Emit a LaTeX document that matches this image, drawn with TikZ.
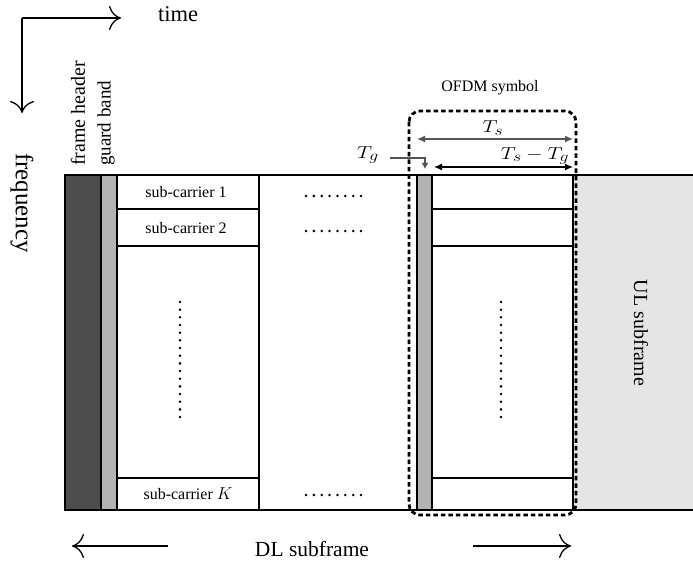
\documentclass[tikz,border=0pt]{standalone}
\usepackage{fontspec}
\setmainfont{Liberation Serif}
\usetikzlibrary{arrows.meta}
\definecolor{hdrgray}{HTML}{4D4D4D}
\definecolor{bandgray}{HTML}{B3B3B3}
\definecolor{ulgray}{HTML}{E5E5E5}
\definecolor{dimgray}{HTML}{555555}
\begin{document}
\begin{tikzpicture}[x=1pt,y=-1pt,
  cell/.style={draw=black,line width=1.2pt},
  biglbl/.style={inner sep=0pt,font=\fontsize{20}{24}\selectfont},
  smalllbl/.style={inner sep=0pt,font=\fontsize{16}{19}\selectfont},
  mathlbl/.style={inner sep=0pt,font=\fontsize{19}{23}\selectfont,xscale=1.22},
  axisarrow/.style={line width=1.3pt,-{Computer Modern Rightarrow[length=12pt,width=24pt]}},
  dimarrow/.style={line width=1.2pt,{Latex[length=8pt,width=7pt]}-{Latex[length=8pt,width=7pt]}},
  dotmark/.style={fill=black}
]
\fill[white] (0,0) rectangle (693,564);
\useasboundingbox (0,0) rectangle (693,564);

% time / frequency axes
\coordinate (origin) at (22,18);
\coordinate (tend) at (121,18);
\coordinate (fend) at (22,113);
\draw[axisarrow] (origin) -- (tend);
\draw[axisarrow] (origin) -- (fend);
\node[biglbl,font=\fontsize{22.5}{26}\selectfont] (time) at (178,14) {time};
\node[biglbl,font=\fontsize{25}{29}\selectfont,rotate=-90] (freq) at (22,203) {frequency};

% labels over header and guard band
\node[biglbl,rotate=90,anchor=west] (hdrlbl) at (78,166) {frame header};
\node[biglbl,font=\fontsize{19}{23}\selectfont,rotate=90,anchor=west] (bandlbl) at (106,166) {guard band};

% frame header and guard band
\filldraw[cell,fill=hdrgray] (65,175) rectangle (101,510);
\filldraw[cell,fill=bandgray] (101,175) rectangle (117,510);

% first symbol with its sub-carriers
\draw[cell] (117,175) rectangle (259,510);
\foreach \yy in {209,246,478} \draw[cell] (117,\yy) -- (259,\yy);
\node[smalllbl] (sc1) at (186,192) {sub-carrier 1};
\node[smalllbl] (sc2) at (186,228) {sub-carrier 2};
\node[smalllbl] (scK) at (188,494) {sub-carrier $K$};
\foreach \k in {0,...,15} \fill[dotmark] (180,{302+\k*7.67}) circle (1.4);

% horizontal continuation dots
\foreach \yy in {196,231,495}
  \foreach \k in {0,...,7} \fill[dotmark] ({306+\k*7.86},\yy) circle (1.4);

% last symbol: cyclic prefix and body
\filldraw[cell,fill=bandgray] (417,175) rectangle (432,510);
\draw[cell] (432,175) rectangle (573,510);
\foreach \yy in {209,246,478} \draw[cell] (432,\yy) -- (573,\yy);
\foreach \k in {0,...,15} \fill[dotmark] (501,{302+\k*7.67}) circle (1.4);

% uplink subframe
\fill[ulgray] (573,175) rectangle (693,510);
\draw[cell] (573,175) -- (573,510);
\node[biglbl,rotate=-90] (ullbl) at (641,333) {UL subframe};

% frame top and bottom edges
\draw[cell] (65,175) -- (693,175);
\draw[cell] (65,510) -- (693,510);

% OFDM symbol outline
\draw[line width=2.8pt,dash pattern=on 4.5pt off 3pt,rounded corners=11pt]
  (409,111) rectangle (576,515);
\node[smalllbl] (ofdm) at (490,88) {OFDM symbol};

% symbol durations
\coordinate (tsL) at (417,139);
\coordinate (tsR) at (573,139);
\coordinate (tuL) at (434,167);
\coordinate (tuR) at (573,167);
\draw[dimarrow,draw=dimgray] (tsL) -- (tsR);
\node[mathlbl] (ts) at (493,128) {$T_s$};
\draw[dimarrow] (tuL) -- (tuR);
\node[mathlbl] (tu) at (535,156) {$T_s - T_g$};
\node[mathlbl] (tg) at (368,155) {$T_g$};
\coordinate (tgtip) at (425,169);
\draw[line width=1.2pt,draw=dimgray,-{Latex[length=6pt,width=7pt]}] (390,158) -| (tgtip);

% downlink subframe span
\node[biglbl,font=\fontsize{21.5}{25}\selectfont] (dl) at (312,549) {DL subframe};
\coordinate (dlLa) at (168,546);
\coordinate (dlLb) at (72,546);
\coordinate (dlRa) at (473,546);
\coordinate (dlRb) at (571,546);
\draw[axisarrow] (dlLa) -- (dlLb);
\draw[axisarrow] (dlRa) -- (dlRb);
\end{tikzpicture}
\end{document}
